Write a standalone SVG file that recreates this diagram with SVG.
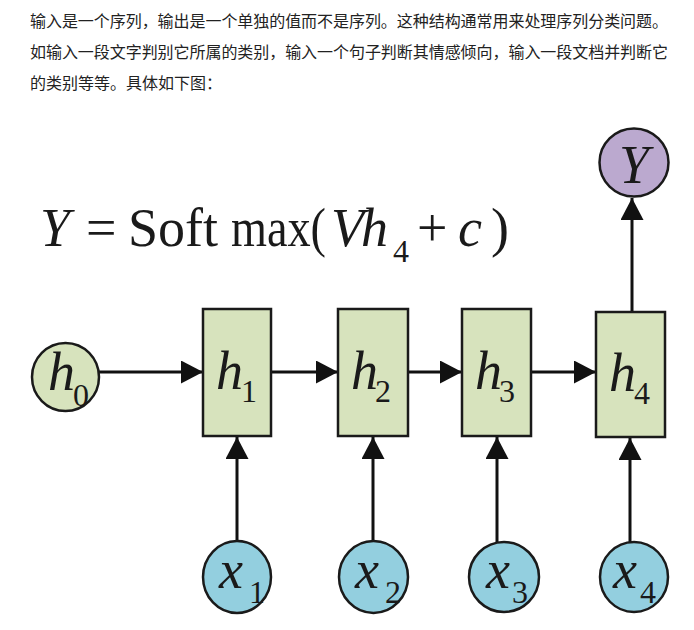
<svg xmlns="http://www.w3.org/2000/svg" width="694" height="630" viewBox="0 0 694 630">
<style>
.cn{font-family:"Noto Sans CJK SC","Liberation Sans",sans-serif;font-size:16px;fill:#222}
.m{font-family:"Liberation Serif",serif;font-size:54px;fill:#1a1a1a}
.i{font-style:italic}
.s{font-family:"Liberation Serif",serif;font-size:32px;fill:#1a1a1a}
.g{fill:#d7e3bd;stroke:#1a1a1a;stroke-width:2.5}
.b{fill:#93cfdf;stroke:#1a1a1a;stroke-width:2.5}
.p{fill:#bba9cf;stroke:#1a1a1a;stroke-width:2.5}
.e{stroke:#111;stroke-width:3;fill:none;marker-end:url(#ah)}
</style>
<defs>
<marker id="ah" markerUnits="userSpaceOnUse" markerWidth="23" markerHeight="23" refX="22" refY="11.5" orient="auto">
<path d="M0,0 L22,11.5 L0,23 z" fill="#111"/>
</marker>
</defs>
<rect width="694" height="630" fill="#fff"/>
<g id="intro">
<text class="cn" x="30" y="27" textLength="638" lengthAdjust="spacing">输入是一个序列，输出是一个单独的值而不是序列。这种结构通常用来处理序列分类问题。</text>
<text class="cn" x="30" y="58" textLength="638" lengthAdjust="spacing">如输入一段文字判别它所属的类别，输入一个句子判断其情感倾向，输入一段文档并判断它</text>
<text class="cn" x="30" y="89">的类别等等。具体如下图：</text>
</g>
<g id="formula">
<text class="m i" x="40" y="246">Y</text>
<text class="m" x="86" y="246">=</text>
<text class="m" x="128" y="246">Soft</text>
<text class="m" x="231" y="246" textLength="95" lengthAdjust="spacingAndGlyphs">max(</text>
<text class="m i" x="331" y="246">V</text>
<text class="m i" x="361" y="246">h</text>
<text class="s" x="393" y="262">4</text>
<text class="m" x="417" y="246">+</text>
<text class="m i" x="458" y="246">c</text>
<text class="m" x="491" y="246">)</text>
</g>
<g id="connectors">
<line class="e" x1="99" y1="372" x2="203" y2="372"/>
<line class="e" x1="271" y1="372" x2="338" y2="372"/>
<line class="e" x1="408" y1="372" x2="462" y2="372"/>
<line class="e" x1="531" y1="372" x2="596" y2="372"/>
<line class="e" x1="632" y1="312" x2="632" y2="198"/>
<line class="e" x1="237" y1="541" x2="237" y2="437"/>
<line class="e" x1="373" y1="541" x2="373" y2="437"/>
<line class="e" x1="497" y1="542" x2="497" y2="437"/>
<line class="e" x1="630" y1="542" x2="630" y2="438"/>
</g>
<g id="Y">
<ellipse class="p" cx="634" cy="162.5" rx="34.5" ry="34"/>
<text class="m i" x="634" y="183" text-anchor="middle">Y</text>
</g>
<g id="h0">
<ellipse class="g" cx="65.5" cy="377" rx="33.5" ry="34"/>
<text class="m i" x="48" y="390">h</text>
<text class="s" x="73" y="406">0</text>
</g>
<g id="h1">
<rect class="g" x="203" y="309" width="68" height="127"/>
<text class="m i" x="216" y="389">h</text>
<text class="s" x="241" y="402">1</text>
</g>
<g id="h2">
<rect class="g" x="338" y="309" width="70" height="127"/>
<text class="m i" x="351" y="389">h</text>
<text class="s" x="375" y="402">2</text>
</g>
<g id="h3">
<rect class="g" x="462" y="309" width="69" height="127"/>
<text class="m i" x="475" y="389">h</text>
<text class="s" x="499" y="402">3</text>
</g>
<g id="h4">
<rect class="g" x="596" y="312" width="69" height="125"/>
<text class="m i" x="609" y="391">h</text>
<text class="s" x="634" y="404">4</text>
</g>
<g id="x1">
<ellipse class="b" cx="237" cy="577" rx="34" ry="36"/>
<text class="m i" x="219" y="588">x</text>
<text class="s" x="249" y="603">1</text>
</g>
<g id="x2">
<ellipse class="b" cx="373.5" cy="577" rx="34.5" ry="36"/>
<text class="m i" x="355" y="588">x</text>
<text class="s" x="385" y="603">2</text>
</g>
<g id="x3">
<ellipse class="b" cx="504" cy="577" rx="35" ry="35"/>
<text class="m i" x="486" y="588">x</text>
<text class="s" x="512" y="603">3</text>
</g>
<g id="x4">
<ellipse class="b" cx="634" cy="577" rx="34" ry="35"/>
<text class="m i" x="613" y="588">x</text>
<text class="s" x="640" y="603">4</text>
</g>
</svg>
